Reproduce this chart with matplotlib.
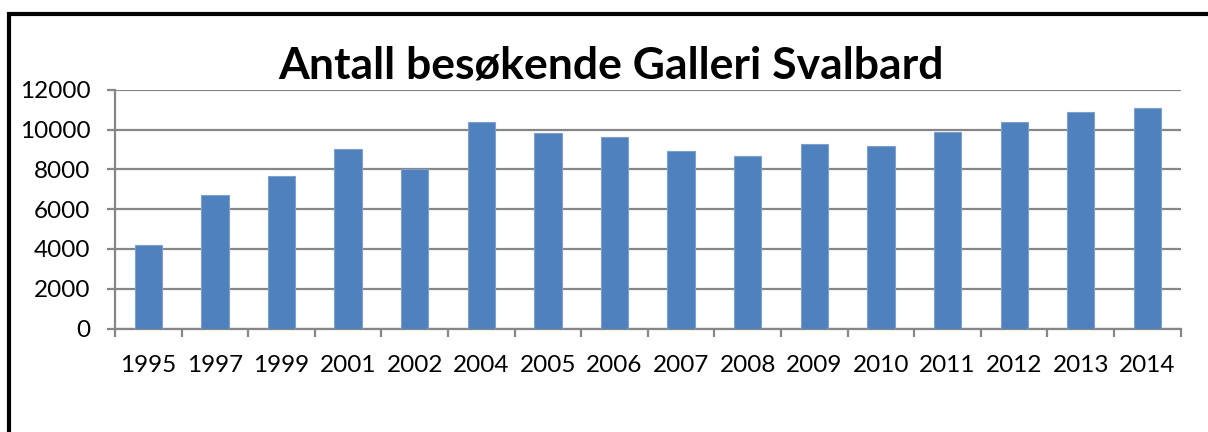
import matplotlib
matplotlib.use("Agg")
import matplotlib.pyplot as plt
from matplotlib.lines import Line2D
import numpy as np

# Data
years = ["1995", "1997", "1999", "2001", "2002", "2004", "2005", "2006",
         "2007", "2008", "2009", "2010", "2011", "2012", "2013", "2014"]
visitors = [4200, 6710, 7670, 9010, 8020, 10360, 9820, 9620,
            8900, 8670, 9270, 9190, 9880, 10360, 10870, 11070]
yticks = [0, 2000, 4000, 6000, 8000, 10000, 12000]
title = "Antall besøkende Galleri Svalbard"

plt.rcParams['font.family'] = ['Lato', 'DejaVu Sans']

W, H = 1208, 432
fig = plt.figure(figsize=(W / 100, H / 100), dpi=100)
ax = fig.add_axes([115 / W, 1 - 328.5 / H, (1180.7 - 115) / W, (328.5 - 89.7) / H])

grey = '#868686'
x = np.arange(len(years))
ax.bar(x, visitors, width=0.41, color='#4F81BD', edgecolor='#7EA0CF',
       linewidth=0.8, zorder=3)

ax.set_xlim(-0.5, len(years) - 0.5)
ax.set_ylim(0, 12000)
ax.set_yticks(yticks)
ax.set_xticks(x)
ax.set_xticklabels(years)
ax.set_xticks(np.arange(-0.5, len(years)), minor=True)

ax.grid(axis='y', color=grey, linewidth=1.6, zorder=0)
for side in ['top', 'right']:
    ax.spines[side].set_visible(False)
for side in ['left', 'bottom']:
    ax.spines[side].set_color(grey)
    ax.spines[side].set_linewidth(1.6)

ax.tick_params(axis='y', direction='out', length=5.8, width=1.6, color=grey,
               labelsize=17.5, pad=12)
ax.tick_params(axis='x', which='major', length=0, labelsize=17.5, pad=19)
ax.tick_params(axis='x', which='minor', direction='out', length=5.8,
               width=1.6, color=grey)

fig.text(611 / W, 1 - 78 / H, title, ha='center', va='baseline',
         fontsize=32, fontweight='bold')

# black frame (left and top edges of the chart box)
fig.add_artist(Line2D([9 / W, 9 / W, 1.0], [0.0, 1 - 13.5 / H, 1 - 13.5 / H],
                      transform=fig.transFigure, color='black', linewidth=3,
                      solid_joinstyle='miter'))

fig.savefig('out.png', dpi=100)
